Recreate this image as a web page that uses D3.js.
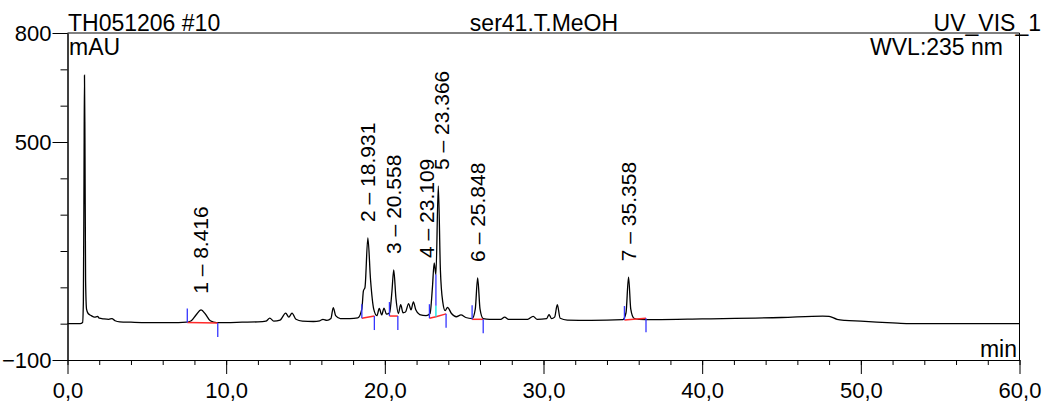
<!DOCTYPE html>
<html>
<head>
<meta charset="utf-8">
<script src="https://cdn.jsdelivr.net/npm/d3@7"></script>
<style>
  body { margin: 0; background: #fff; }
  text { font-family: "Liberation Sans", Arial, sans-serif; fill: #000; }
</style>
</head>
<body>
<script>
// chromatogram trace, [time in min, mAU]
var trace = [
    [0.0, 0], [0.8, 0], [0.95, 3], [1.0, 60], [1.04, 400], [1.07, 684], [1.1, 500],
    [1.14, 120], [1.2, 40], [1.3, 28], [1.5, 22], [1.7, 18], [1.9, 20], [2.0, 15],
    [2.3, 13], [2.6, 12], [2.8, 14], [3.0, 8], [3.3, 5], [4.0, 4], [5.0, 3], [6.0, 3],
    [7.0, 3], [7.5, 4], [7.8, 8], [8.1, 24], [8.42, 38], [8.7, 26], [9.0, 8], [9.4, 3],
    [10.0, 3], [11.0, 4], [12.0, 5], [12.5, 7], [12.75, 15], [13.0, 7], [13.4, 10],
    [13.75, 29], [13.95, 18], [14.15, 29], [14.4, 12], [14.8, 7], [15.5, 6], [15.9, 8],
    [16.1, 12], [16.35, 9], [16.6, 14], [16.75, 44], [16.9, 22], [17.2, 14], [17.8, 14],
    [18.3, 16], [18.55, 40], [18.65, 90], [18.75, 100], [18.93, 236], [19.1, 120],
    [19.3, 40], [19.5, 22], [19.65, 42], [19.8, 24], [19.95, 43], [20.1, 26], [20.3, 30],
    [20.45, 90], [20.56, 148], [20.7, 70], [20.85, 28], [21.0, 52], [21.15, 30],
    [21.3, 32], [21.5, 55], [21.65, 38], [21.8, 60], [21.95, 38], [22.2, 25], [22.6, 22],
    [22.85, 28], [23.0, 100], [23.11, 167], [23.22, 135], [23.37, 379], [23.5, 150],
    [23.65, 60], [23.8, 36], [23.95, 45], [24.2, 28], [24.5, 19], [24.8, 24], [25.1, 17],
    [25.5, 14], [25.7, 40], [25.85, 126], [26.0, 40], [26.2, 14], [26.6, 12], [27.3, 12],
    [27.55, 18], [27.8, 12], [29.0, 12], [29.35, 20], [29.6, 12], [30.2, 14], [30.35, 25],
    [30.5, 14], [30.7, 18], [30.87, 52], [31.05, 15], [31.5, 10], [33.0, 9], [35.0, 11],
    [35.2, 30], [35.36, 128], [35.5, 40], [35.7, 15], [36.0, 12], [37.0, 11], [40.0, 13],
    [45.0, 17], [47.6, 21], [48.0, 20], [48.5, 12], [49.0, 9], [50.0, 7], [52.0, 2],
    [53.0, 0], [60.0, 0]
];

// integrated peaks
var peakNames = ["1", "2", "3", "4", "5", "6", "7"];
var peakTimes = [8.416, 18.931, 20.558, 23.109, 23.366, 25.848, 35.358];
var peakHeights = [38, 236, 148, 167, 379, 126, 128];
var peakStarts = [7.55, 18.55, 20.29, 22.81, 23.22, 25.5, 35.1];
var peakEnds = [9.47, 19.34, 20.82, 23.22, 23.86, 26.2, 36.46];
var baseStart = [3, 15, 21, 15, 19, 12, 10];
var baseEnd = [2, 21, 21, 19, 27, 12, 15];

var xMajor = [0, 10, 20, 30, 40, 50, 60];
var yMajor = [800, 500, -100];

var width = 1045;
var height = 403;

var svg = d3.select("body").append("svg")
            .attr("width", width)
            .attr("height", height);

var x = d3.scaleLinear().domain([0, 60]).range([67.5, 1019.5]);
var y = d3.scaleLinear().domain([-100, 800]).range([360, 33]);

function translate(a, b) {
    return "translate(" + a + ", " + b + ")";
}

var comma = function(d) { return d3.format(".1f")(d).replace(".", ","); };

// minor ticks first, majors on top
svg.append("g")
   .attr("transform", translate(0, 360))
   .call(d3.axisBottom(x).ticks(24).tickSize(5).tickSizeOuter(0).tickFormat(""));

svg.append("g")
   .attr("transform", translate(0, 360))
   .call(d3.axisBottom(x).tickValues(xMajor).tickSize(14).tickSizeOuter(0)
           .tickPadding(8).tickFormat(comma));

svg.append("g")
   .attr("transform", translate(67.5, 0))
   .call(d3.axisLeft(y).ticks(9).tickSize(7).tickSizeOuter(0).tickFormat(""));

svg.append("g")
   .attr("transform", translate(67.5, 0))
   .call(d3.axisLeft(y).tickValues(yMajor).tickSize(15).tickSizeOuter(0)
           .tickPadding(1).tickFormat(d3.format("d")));

svg.selectAll(".tick text")
   .attr("font-size", 22)
   .attr("font-family", "Liberation Sans, Arial, sans-serif");
svg.selectAll(".domain, .tick line").attr("stroke", "#000");

// frame top and right
svg.append("line")
   .attr("x1", x(0)).attr("x2", x(60))
   .attr("y1", y(800)).attr("y2", y(800))
   .attr("stroke", "#000");
svg.append("line")
   .attr("x1", x(60)).attr("x2", x(60))
   .attr("y1", y(800)).attr("y2", y(-100))
   .attr("stroke", "#000");

// trace
var line = d3.line()
             .x(function(d) { return x(d[0]); })
             .y(function(d) { return y(d[1]); })
             .curve(d3.curveMonotoneX);

svg.append("path")
   .datum(trace)
   .attr("d", line)
   .attr("fill", "none")
   .attr("stroke", "#000")
   .attr("stroke-width", 1.3);

// integration baselines and delimiters
var marks = svg.append("g");
var tickLen = 14;
var blue = "#3535ff";

peakNames.forEach(function(name, i) {
    var xs = x(peakStarts[i]), xe = x(peakEnds[i]);
    var ys = y(baseStart[i]), ye = y(baseEnd[i]);

    marks.append("line")
         .attr("x1", xs).attr("y1", ys).attr("x2", xe).attr("y2", ye)
         .attr("stroke", "#ff2a2a").attr("stroke-width", 1.5);

    if (name === "5") {
        // drop line between peak 4 and 5
        var valley = 135;
        marks.append("line")
             .attr("x1", xs).attr("x2", xs)
             .attr("y1", ys).attr("y2", ys - 11)
             .attr("stroke", "#00e5e5").attr("stroke-width", 1.3);
        marks.append("line")
             .attr("x1", xs).attr("x2", xs)
             .attr("y1", ys - 11).attr("y2", y(valley))
             .attr("stroke", blue).attr("stroke-width", 1.3);
    } else {
        marks.append("line")
             .attr("x1", xs).attr("x2", xs)
             .attr("y1", ys).attr("y2", ys - tickLen)
             .attr("stroke", blue).attr("stroke-width", 1.3);
    }
    if (name !== "4") {
        marks.append("line")
             .attr("x1", xe).attr("x2", xe)
             .attr("y1", ye).attr("y2", ye + tickLen)
             .attr("stroke", blue).attr("stroke-width", 1.3);
    }
});

// peak labels, nudged where they would collide
var nudge = { "4": [-8, 11], "5": [3, 0] };

svg.selectAll("text.peak")
   .data(peakNames)
   .enter()
   .append("text")
   .attr("class", "peak")
   .attr("transform", function(d, i) {
       var n = nudge[d] || [0, 0];
       return translate(x(peakTimes[i]) + n[0], y(peakHeights[i]) - 16 + n[1]) + " rotate(-90)";
   })
   .attr("dy", "0.35em")
   .attr("font-size", 21)
   .text(function(d, i) { return d + " \u2013 " + d3.format(".3f")(peakTimes[i]); });

// header and unit texts
function label(txt, px, py, anchor, size) {
    svg.append("text")
       .attr("x", px).attr("y", py)
       .attr("text-anchor", anchor)
       .attr("font-size", size)
       .text(txt);
}

label("TH051206 #10", 68, 31, "start", 23);
label("ser41.T.MeOH", 544, 31, "middle", 23);
label("UV_VIS_1", 1041, 31, "end", 23);
label("mAU", 69, 55, "start", 23);
label("WVL:235 nm", 1003, 55, "end", 23);
label("min", 1017, 357, "end", 23);
</script>
</body>
</html>
